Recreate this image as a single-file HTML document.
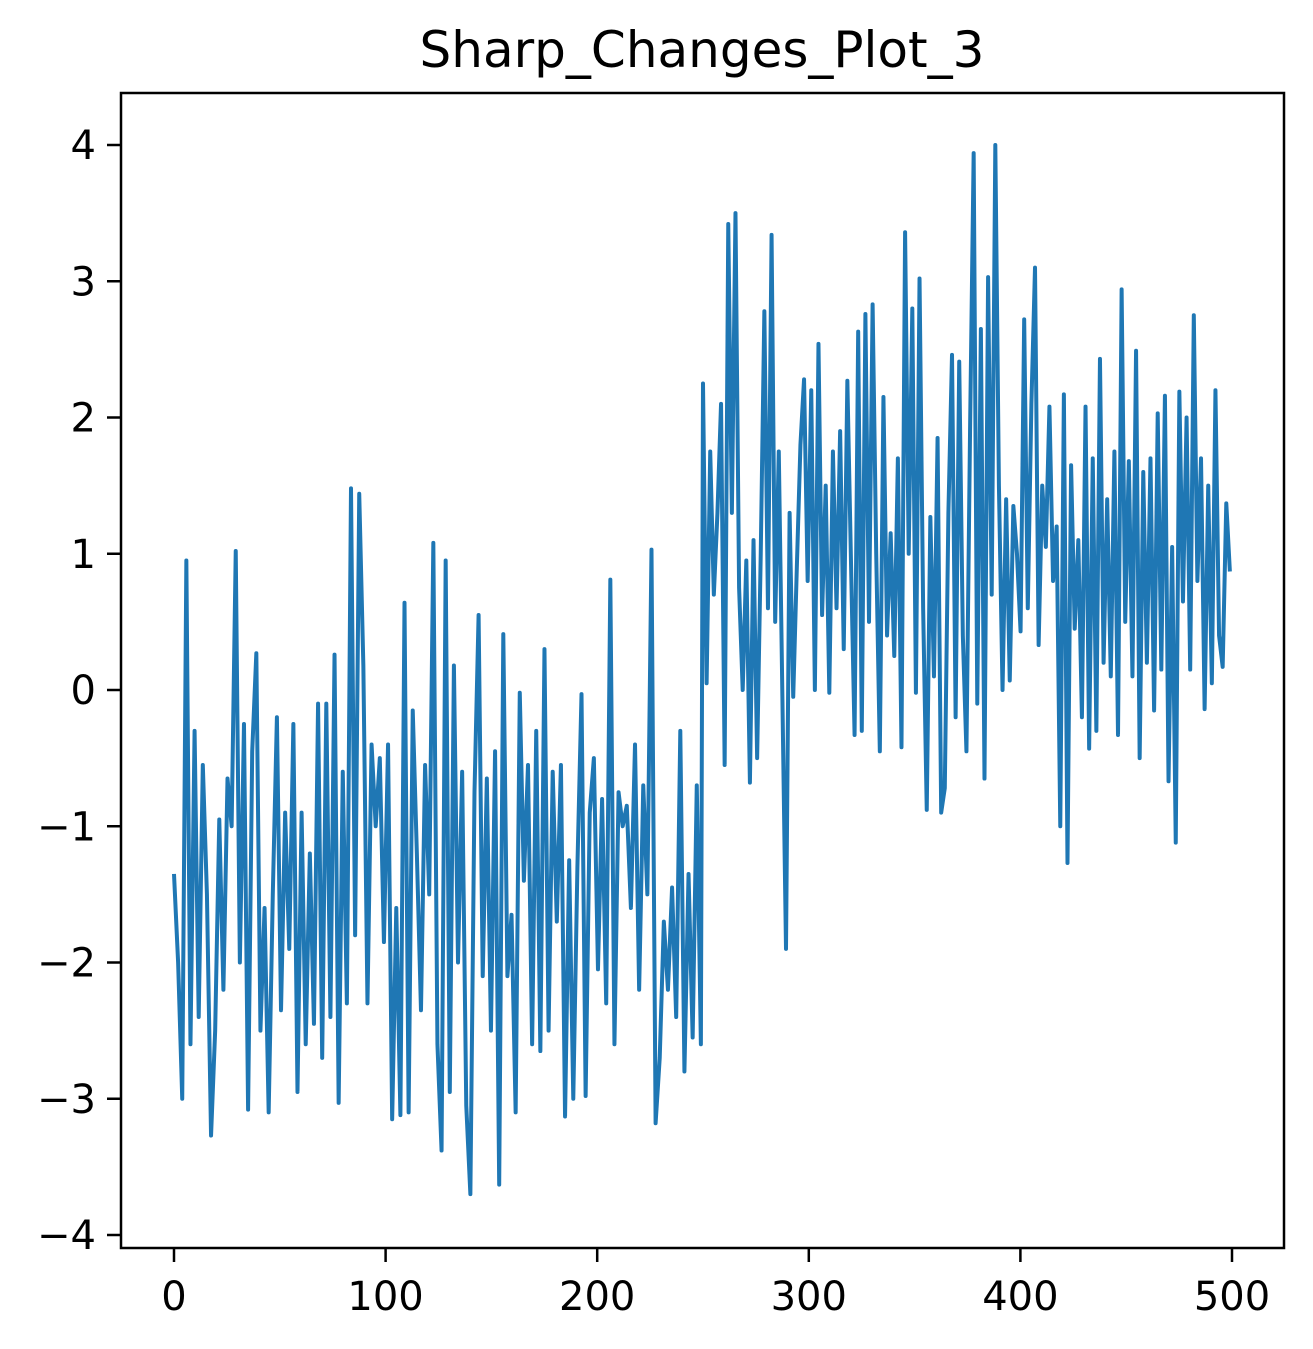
<!DOCTYPE html>
<html><head><meta charset="utf-8"><style>
html,body{margin:0;padding:0;background:#fff;}
svg{display:block;font-family:"DejaVu Sans","Liberation Sans",sans-serif;}
</style></head><body>
<svg id="chart" width="1313" height="1349" viewBox="0 0 1313 1349">
<rect width="1313" height="1349" fill="#fff"/>
<text x="702" y="67" style="font-size:50px" text-anchor="middle" fill="#000">Sharp_Changes_Plot_3</text>
<g id="marks"></g>
<g id="xaxis"></g>
<g id="yaxis"></g>
<rect x="121" y="93" width="1163" height="1155" fill="none" stroke="#000" stroke-width="2.5"/>
</svg>
<script>
const xTicks = [0, 100, 200, 300, 400, 500];
const yTicks = [-4, -3, -2, -1, 0, 1, 2, 3, 4];
const yTickLabels = ["\u22124", "\u22123", "\u22122", "\u22121", "0", "1", "2", "3", "4"];
const firstHalf = [-1.35,-2.0,-3.0,0.95,-2.6,-0.3,-2.4,-0.55,-1.5,-3.27,-2.5,-0.95,-2.2,-0.65,-1.0,1.02,-2.0,-0.25,-3.08,-0.45,0.27,-2.5,-1.6,-3.1,-1.5,-0.2,-2.35,-0.9,-1.9,-0.25,-2.95,-0.9,-2.6,-1.2,-2.45,-0.1,-2.7,-0.1,-2.4,0.26,-3.03,-0.6,-2.3,1.48,-1.8,1.44,0.18,-2.3,-0.4,-1.0,-0.5,-1.85,-0.4,-3.15,-1.6,-3.12,0.64,-3.1,-0.15,-1.2,-2.35,-0.55,-1.5,1.08,-2.6,-3.38,0.95,-2.95,0.18,-2.0,-0.6,-3.05,-3.7,-0.75,0.55,-2.1,-0.65,-2.5,-0.45,-3.63,0.41,-2.1,-1.65,-3.1,-0.02,-1.4,-0.55,-2.6,-0.3,-2.65,0.3,-2.5,-0.6,-1.7,-0.55,-3.13,-1.25,-3.0,-1.3,-0.03,-2.98,-0.9,-0.5,-2.05,-0.8,-2.3,0.81,-2.6,-0.75,-1.0,-0.85,-1.6,-0.4,-2.2,-0.7,-1.5,1.03,-3.18,-2.7,-1.7,-2.2,-1.45,-2.4,-0.3,-2.8,-1.35,-2.55,-0.7,-2.6];
const secondHalf = [2.25,0.05,1.75,0.7,1.3,2.1,-0.55,3.42,1.3,3.5,0.75,0.0,0.95,-0.68,1.1,-0.5,1.0,2.78,0.6,3.34,0.5,1.75,-0.05,-1.9,1.3,-0.05,0.9,1.8,2.28,0.8,2.2,0.0,2.54,0.55,1.5,-0.02,1.75,0.6,1.9,0.3,2.27,0.95,-0.33,2.63,-0.3,2.76,0.5,2.83,1.0,-0.45,2.15,0.4,1.15,0.25,1.7,-0.42,3.36,1.0,2.8,-0.02,3.02,0.6,-0.88,1.27,0.1,1.85,-0.9,-0.72,1.3,2.46,-0.2,2.41,0.4,-0.45,1.9,3.94,-0.1,2.65,-0.65,3.03,0.7,4.0,1.5,0.0,1.4,0.07,1.35,1.0,0.43,2.72,0.6,2.1,3.1,0.33,1.5,1.05,2.08,0.8,1.2,-1.0,2.17,-1.27,1.65,0.45,1.1,-0.2,2.08,-0.43,1.7,-0.3,2.43,0.2,1.4,0.1,1.75,-0.33,2.94,0.5,1.68,0.1,2.49,-0.5,1.6,0.2,1.7,-0.15,2.03,0.15,2.16,-0.67,1.05,-1.12,2.19,0.65,2.0,0.15,2.75,0.8,1.7,-0.14,1.5,0.05,2.2,0.4,0.17,1.37,0.87];
const changeAt = 250;
const xMax = 499;

const NS = "http://www.w3.org/2000/svg";
function xScale(v){ return 174 + (v - 0) * (1232 - 174) / 500; }
function yScale(v){ return 690 - v * (690 - 145) / 4; }

const pts = [];
firstHalf.forEach((v, i) => pts.push([i * (changeAt - 1) / (firstHalf.length - 1), v]));
secondHalf.forEach((v, j) => pts.push([changeAt + j * (xMax - changeAt) / (secondHalf.length - 1), v]));

const marks = document.getElementById('marks');
let d = '';
pts.forEach((p, i) => {
  d += (i ? 'L' : 'M') + xScale(p[0]).toFixed(2) + ',' + yScale(p[1]).toFixed(2);
});
const path = document.createElementNS(NS, 'path');
path.setAttribute('d', d);
path.setAttribute('fill', 'none');
path.setAttribute('stroke', '#1f77b4');
path.setAttribute('stroke-width', '4');
path.setAttribute('stroke-linejoin', 'round');


marks.appendChild(path);

const xa = document.getElementById('xaxis');
xTicks.forEach(t => {
  const x = xScale(t);
  const l = document.createElementNS(NS, 'line');
  l.setAttribute('x1', x); l.setAttribute('x2', x);
  l.setAttribute('y1', 1248); l.setAttribute('y2', 1262);
  l.setAttribute('stroke', '#000'); l.setAttribute('stroke-width', '2.5');
  
  
  xa.appendChild(l);
  const tx = document.createElementNS(NS, 'text');
  tx.setAttribute('x', x); tx.setAttribute('y', 1310);
  tx.setAttribute('style', 'font-size:40px'); tx.setAttribute('text-anchor', 'middle');
  tx.textContent = String(t);
  
  
  xa.appendChild(tx);
});
const ya = document.getElementById('yaxis');
yTicks.forEach((t, i) => {
  const y = yScale(t);
  const l = document.createElementNS(NS, 'line');
  l.setAttribute('x1', 107); l.setAttribute('x2', 121);
  l.setAttribute('y1', y); l.setAttribute('y2', y);
  l.setAttribute('stroke', '#000'); l.setAttribute('stroke-width', '2.5');
  
  
  ya.appendChild(l);
  const tx = document.createElementNS(NS, 'text');
  tx.setAttribute('x', 96); tx.setAttribute('y', y + 14);
  tx.setAttribute('style', 'font-size:40px'); tx.setAttribute('text-anchor', 'end');
  tx.textContent = yTickLabels[i];
  
  
  ya.appendChild(tx);
});
</script>
</body></html>
